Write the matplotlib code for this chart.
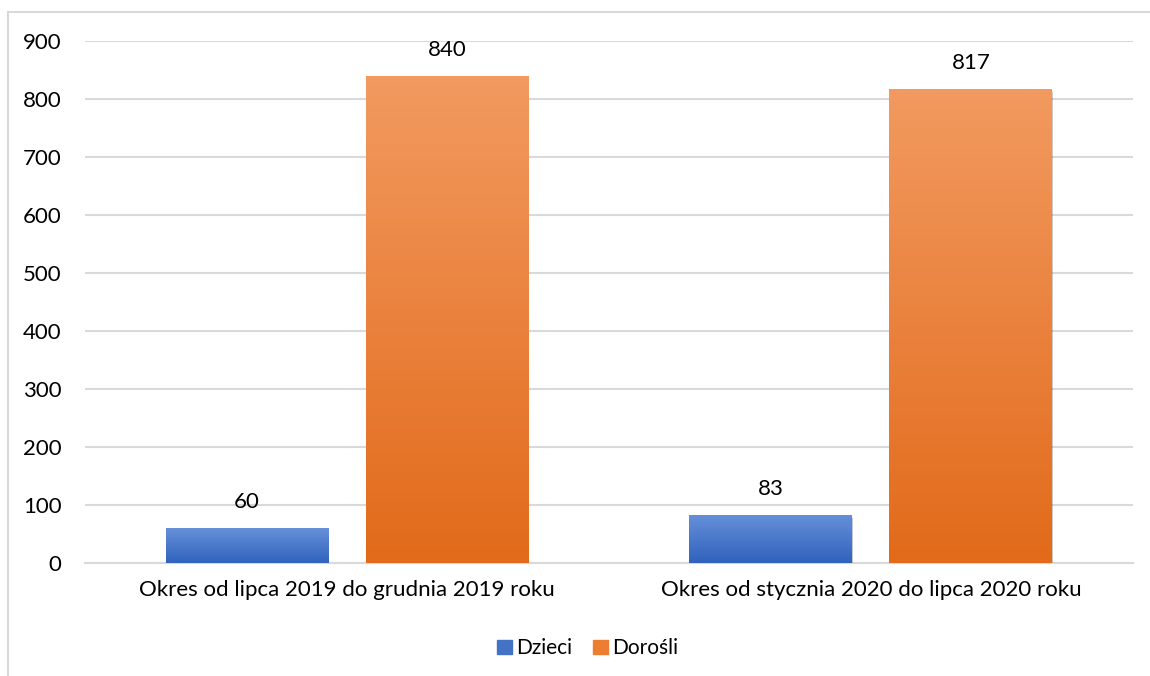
import numpy as np
import matplotlib.pyplot as plt
from matplotlib import patheffects
from matplotlib.colors import LinearSegmentedColormap
from matplotlib.patches import Rectangle

plt.rcParams['font.family'] = ['Lato', 'DejaVu Sans']

periods = ['Okres od lipca 2019 do grudnia 2019 roku',
           'Okres od stycznia 2020 do lipca 2020 roku']
series = ['Dzieci', 'Dorośli']
dzieci = [60, 83]
dorosli = [840, 817]

# (top colour, bottom colour, legend colour)
palette = {
    'Dzieci': ('#6690D8', '#3062BE', '#4472C4'),
    'Dorośli': ('#F29A60', '#E26A1A', '#ED7D31'),
}

fig = plt.figure(figsize=(11.5, 6.76), dpi=100)
ax = fig.add_axes([0.074, 0.167, 0.911, 0.772])

# outer chart border
fig.patches.append(Rectangle((8 / 1150, -0.01), 1.1, 1 - 12 / 676 + 0.01,
                             transform=fig.transFigure, fill=False,
                             edgecolor='#D9D9D9', linewidth=1.5))

x = np.arange(len(periods))
width = 0.311
offset = 0.191

for vals, name, dx in [(dzieci, 'Dzieci', -offset), (dorosli, 'Dorośli', offset)]:
    top, bottom, solid = palette[name]
    bars = ax.bar(x + dx, vals, width, color=solid, label=name, zorder=3)
    cmap = LinearSegmentedColormap.from_list(name, [bottom, top])
    grad = np.linspace(0, 1, 256).reshape(-1, 1)
    for bar, v in zip(bars, vals):
        bar.set_path_effects([patheffects.SimplePatchShadow(offset=(0.5, -2), alpha=0.25),
                              patheffects.Normal()])
        x0 = bar.get_x()
        im = ax.imshow(grad, cmap=cmap, origin='lower', aspect='auto',
                       extent=(x0, x0 + bar.get_width(), 0, bar.get_height()),
                       zorder=4)
        im.set_clip_path(bar)
        ax.text(bar.get_x() + bar.get_width() / 2, v + 28, str(v),
                ha='center', va='bottom', fontsize=16, color='#000000', zorder=5)

ax.set_xlim(-0.5, 1.5)
ax.set_ylim(0, 900)
ax.set_yticks(range(0, 901, 100))
ax.set_xticks(x)
ax.set_xticklabels(periods)
ax.tick_params(axis='both', length=0, labelsize=16, colors='#000000')
ax.tick_params(axis='y', pad=17)
ax.tick_params(axis='x', pad=12)
ax.yaxis.grid(True, color='#D9D9D9', linewidth=1.5, zorder=0)
for s in ['top', 'right', 'left']:
    ax.spines[s].set_visible(False)
ax.spines['bottom'].set_color('#D9D9D9')
ax.spines['bottom'].set_linewidth(1.5)

handles = [Rectangle((0, 0), 1, 1, color=palette[n][2]) for n in series]
fig.legend(handles, series, loc='center', bbox_to_anchor=(0.511, 0.041),
           ncol=2, frameon=False, fontsize=15, handlelength=0.7, handleheight=0.7,
           handletextpad=0.2, columnspacing=1.0)

fig.savefig('out.png', dpi=100)
